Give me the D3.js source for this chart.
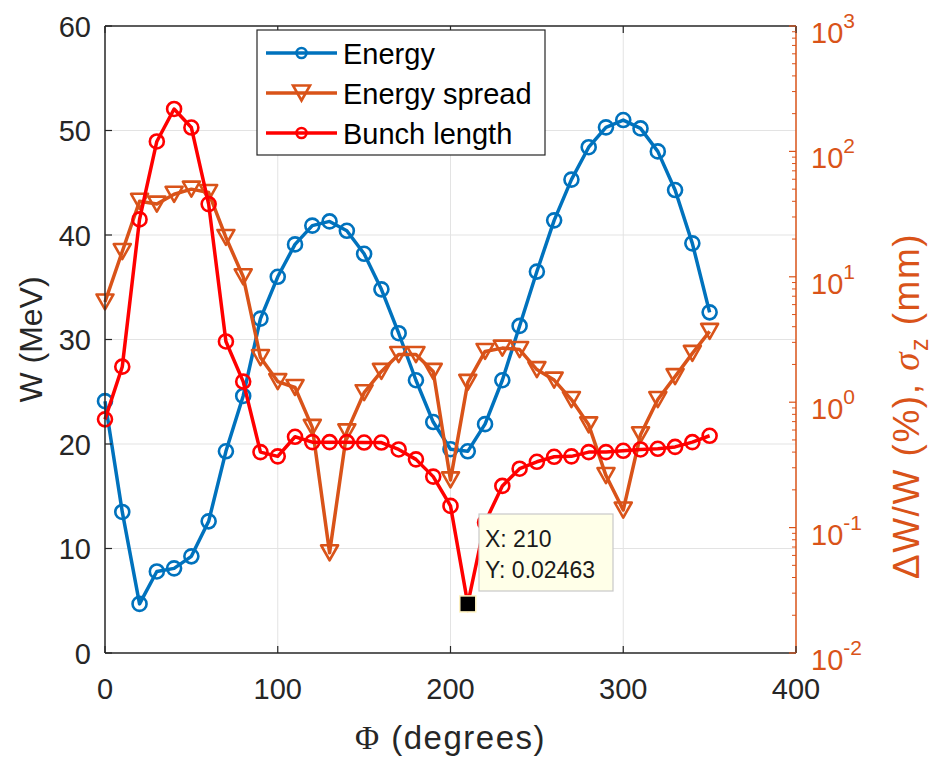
<!DOCTYPE html>
<html>
<head>
<meta charset="utf-8">
<script src="https://cdn.jsdelivr.net/npm/d3@7"></script>
<style>
  html, body { margin: 0; padding: 0; background: #ffffff; }
  svg { display: block; }
  text { font-family: "Liberation Sans", Arial, Helvetica, sans-serif; }
</style>
</head>
<body>
<svg id="chart" width="934" height="757"></svg>
<script>
// ---------------- data ----------------
const phase = [0,10,20,30,40,50,60,70,80,90,100,110,120,130,140,150,160,170,180,190,
               200,210,220,230,240,250,260,270,280,290,300,310,320,330,340,350];
const energy = [24.1,13.5,4.7,7.8,8.1,9.25,12.6,19.3,24.6,32.0,36.0,39.1,40.9,41.3,40.4,38.2,34.8,30.6,26.1,22.1,
                19.5,19.3,21.9,26.1,31.3,36.5,41.4,45.3,48.4,50.3,51.0,50.2,48.0,44.3,39.2,32.6];
const energySpread = [6.3,15.9,40,38,45.5,50,47,20.6,10,2.27,1.46,1.31,0.63,0.063,0.58,1.19,1.76,2.4,2.4,1.76,
                      0.24,1.44,2.54,2.7,2.63,1.82,1.5,1.05,0.66,0.26,0.138,0.55,1.05,1.6,2.45,3.67];
const bunchLength = [0.73,1.92,28.7,120,218,155,38,3.05,1.46,0.40,0.37,0.53,0.48,0.48,0.48,0.477,0.477,0.42,0.35,0.255,
                     0.149,0.02463,0.11,0.215,0.295,0.335,0.367,0.37,0.40,0.40,0.41,0.42,0.425,0.44,0.48,0.54];
const seriesNames = ["Energy", "Energy spread", "Bunch length"];
const xTicks = [0,100,200,300,400];
const yLeftTicks = [0,10,20,30,40,50,60];
const yRightExps = [-2,-1,0,1,2,3];
const datatip = {x: 210, y: 0.02463};

// ---------------- layout ----------------
const svg = d3.select("#chart");
const L = 105, R = 796, T = 26, B = 653;
const axisCol = "#262626", gridCol = "#e3e3e3";
const cBlue = "#0072BD", cOrange = "#D95319", cRed = "#FF0000";
const fs = 29;

const x = d3.scaleLinear().domain([0,400]).range([L,R]);
const yL = d3.scaleLinear().domain([0,60]).range([B,T]);
const yR = d3.scaleLog().domain([0.01,1000]).range([B,T]);

// grid
const grid = svg.append("g");
xTicks.filter(t => t>0 && t<400).forEach(t => {
  grid.append("line").attr("x1", x(t)).attr("x2", x(t)).attr("y1", T).attr("y2", B)
    .attr("stroke", gridCol).attr("stroke-width", 1);
});
yLeftTicks.filter(t => t>0 && t<60).forEach(t => {
  grid.append("line").attr("x1", L).attr("x2", R).attr("y1", yL(t)).attr("y2", yL(t))
    .attr("stroke", gridCol).attr("stroke-width", 1);
});

// series
const plot = svg.append("g");
function drawLine(vals, yScale, color) {
  const line = d3.line().x((d,i) => x(phase[i])).y(d => yScale(d));
  plot.append("path").datum(vals).attr("d", line).attr("fill","none")
    .attr("stroke", color).attr("stroke-width", 3.5).attr("stroke-linejoin","round");
}
function drawCircles(vals, yScale, color) {
  plot.append("g").selectAll("circle").data(vals).join("circle")
    .attr("cx", (d,i) => x(phase[i])).attr("cy", d => yScale(d)).attr("r", 7)
    .attr("fill","none").attr("stroke", color).attr("stroke-width", 2.6);
}
function triPath(cx, cy) {
  const w = 8.5, h = 7.5;
  return `M${cx-w},${cy-h}L${cx+w},${cy-h}L${cx},${cy+h}Z`;
}
function drawTris(vals, yScale, color) {
  plot.append("g").selectAll("path").data(vals).join("path")
    .attr("d", (d,i) => triPath(x(phase[i]), yScale(d)))
    .attr("fill","none").attr("stroke", color).attr("stroke-width", 2.6).attr("stroke-linejoin","round");
}
drawLine(energy, yL, cBlue); drawCircles(energy, yL, cBlue);
drawLine(energySpread, yR, cOrange); drawTris(energySpread, yR, cOrange);
drawLine(bunchLength, yR, cRed); drawCircles(bunchLength, yR, cRed);

// axes box
const ax = svg.append("g");
ax.append("line").attr("x1", L).attr("x2", R).attr("y1", B).attr("y2", B).attr("stroke", axisCol).attr("stroke-width", 1.5);
ax.append("line").attr("x1", L).attr("x2", R).attr("y1", T).attr("y2", T).attr("stroke", axisCol).attr("stroke-width", 1.5);
ax.append("line").attr("x1", L).attr("x2", L).attr("y1", T).attr("y2", B).attr("stroke", axisCol).attr("stroke-width", 1.5);
ax.append("line").attr("x1", R).attr("x2", R).attr("y1", T).attr("y2", B).attr("stroke", cOrange).attr("stroke-width", 1.5);

// x ticks + labels
xTicks.forEach(t => {
  ax.append("line").attr("x1", x(t)).attr("x2", x(t)).attr("y1", B).attr("y2", B-7).attr("stroke", axisCol).attr("stroke-width",1.2);
  ax.append("line").attr("x1", x(t)).attr("x2", x(t)).attr("y1", T).attr("y2", T+7).attr("stroke", axisCol).attr("stroke-width",1.2);
  ax.append("text").attr("x", x(t)).attr("y", 699).attr("text-anchor","middle")
    .attr("font-size", fs).attr("fill", axisCol).text(t);
});
// left ticks + labels
yLeftTicks.forEach(t => {
  ax.append("line").attr("x1", L).attr("x2", L+7).attr("y1", yL(t)).attr("y2", yL(t)).attr("stroke", axisCol).attr("stroke-width",1.2);
  ax.append("text").attr("x", 91).attr("y", yL(t)+10.5).attr("text-anchor","end")
    .attr("font-size", fs).attr("fill", axisCol).text(t);
});
// right log ticks
yRightExps.forEach((e, k) => {
  const v = Math.pow(10, e);
  ax.append("line").attr("x1", R).attr("x2", R-7).attr("y1", yR(v)).attr("y2", yR(v)).attr("stroke", cOrange).attr("stroke-width",1.2);
  if (k < yRightExps.length-1) {
    for (let m = 2; m <= 9; m++) {
      ax.append("line").attr("x1", R).attr("x2", R-4).attr("y1", yR(m*v)).attr("y2", yR(m*v)).attr("stroke", cOrange).attr("stroke-width",1);
    }
  }
  const t = ax.append("text").attr("x", 811).attr("y", yR(v)+17).attr("font-size", fs).attr("fill", cOrange);
  t.append("tspan").text("10");
  t.append("tspan").attr("dy", -15).attr("font-size", 21).text(e);
});

// axis labels
svg.append("text").attr("transform", `translate(42,${(T+B)/2}) rotate(-90)`).attr("text-anchor","middle")
  .attr("font-size", 32).attr("fill", axisCol).text("W (MeV)");
const xl = svg.append("text").attr("x", (L+R)/2).attr("y", 749).attr("text-anchor","middle")
  .attr("font-size", 33).attr("letter-spacing", 1.5).attr("fill", axisCol);
xl.append("tspan").attr("font-family","Liberation Serif, Times New Roman, serif").text("Φ");
xl.append("tspan").text(" (degrees)");
const yl = svg.append("text").attr("transform", `translate(919,406) rotate(-90)`).attr("text-anchor","middle")
  .attr("font-size", 37).attr("letter-spacing", 1.5).attr("fill", cOrange);
yl.append("tspan").text("ΔW/W (%), ");
yl.append("tspan").attr("font-family","Liberation Serif, Times New Roman, serif").attr("font-style","italic").text("σ");
yl.append("tspan").attr("font-size", 25).attr("dy", 9).text("z");
yl.append("tspan").attr("dy", -9).text(" (mm)");

// legend
const lg = svg.append("g");
lg.append("rect").attr("x", 257).attr("y", 30).attr("width", 288).attr("height", 125)
  .attr("fill","#ffffff").attr("stroke", axisCol).attr("stroke-width", 1.2);
const legendY = [53, 93, 133];
const legendCols = [cBlue, cOrange, cRed];
seriesNames.forEach((name, i) => {
  const yy = legendY[i];
  lg.append("line").attr("x1", 266).attr("x2", 337).attr("y1", yy).attr("y2", yy)
    .attr("stroke", legendCols[i]).attr("stroke-width", 3.5);
  if (i === 1) {
    lg.append("path").attr("d", triPath(301.5, yy)).attr("fill","none").attr("stroke", legendCols[i]).attr("stroke-width", 2.6);
  } else {
    lg.append("circle").attr("cx", 301.5).attr("cy", yy).attr("r", 5).attr("fill","none")
      .attr("stroke", legendCols[i]).attr("stroke-width", 2.6);
  }
  lg.append("text").attr("x", 343).attr("y", yy+10.5).attr("font-size", fs).attr("fill", "#000").text(name);
});

// datatip
const dt = svg.append("g");
const px = x(datatip.x), py = yR(datatip.y);
dt.append("rect").attr("x", 479).attr("y", 514).attr("width", 134).attr("height", 77)
  .attr("fill", "#ffffe8").attr("stroke", "#c8c8c8").attr("stroke-width", 1.2);
dt.append("text").attr("x", 485).attr("y", 547).attr("font-size", 23).attr("fill", "#1a1a1a").text("X: " + datatip.x);
dt.append("text").attr("x", 485).attr("y", 578).attr("font-size", 23).attr("fill", "#1a1a1a").text("Y: " + datatip.y);
dt.append("rect").attr("x", px-8).attr("y", py-8).attr("width", 16).attr("height", 16)
  .attr("fill", "#000").attr("stroke", "#fff3c0").attr("stroke-width", 1.5);
</script>
</body>
</html>
